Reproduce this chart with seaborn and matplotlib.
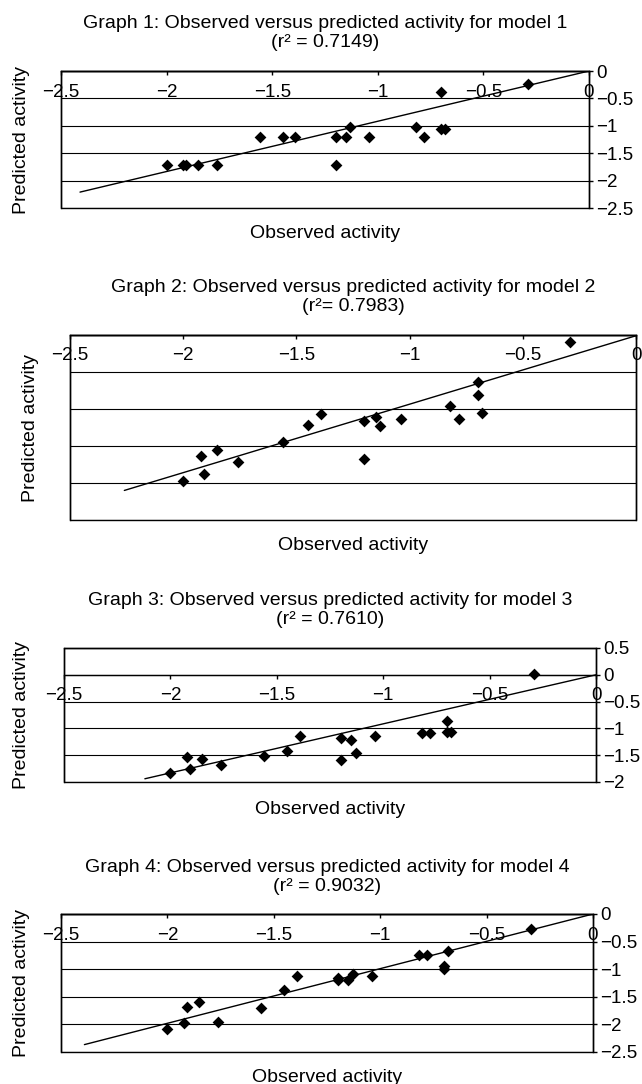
import matplotlib
matplotlib.use('Agg')
import matplotlib.pyplot as plt
import seaborn as sns
import numpy as np

# ── data ──────────────────────────────────────────────────────────────────────
observed = [-2.00, -1.92, -1.91, -1.85, -1.76, -1.56, -1.45, -1.39, -1.20, -1.20,
            -1.15, -1.13, -1.04, -0.82, -0.78, -0.70, -0.70, -0.68, -0.29]

pred_model1 = [-1.72, -1.72, -1.72, -1.72, -1.72, -1.20, -1.20, -1.20, -1.20, -1.72,
               -1.20, -1.02, -1.20, -1.03, -1.20, -0.39, -1.06, -1.06, -0.24]
pred_model2 = [-1.97, -1.63, -1.88, -1.56, -1.72, -1.45, -1.21, -1.07, -1.16, -1.68,
               -1.11, -1.23, -1.14, -0.96, -1.14, -0.64, -0.81, -1.05, -0.09]
pred_model3 = [-1.83, -1.53, -1.75, -1.58, -1.69, -1.52, -1.43, -1.14, -1.17, -1.59,
               -1.22, -1.46, -1.14, -1.09, -1.09, -0.86, -1.06, -1.06, 0.02]
pred_model4 = [-2.09, -1.98, -1.68, -1.60, -1.95, -1.70, -1.38, -1.12, -1.16, -1.19,
               -1.20, -1.09, -1.13, -0.75, -0.75, -0.95, -1.00, -0.67, -0.27]
predicted = [pred_model1, pred_model2, pred_model3, pred_model4]

r2_labels = ['(r\u00b2 = 0.7149)', '(r\u00b2= 0.7983)', '(r\u00b2 = 0.7610)', '(r\u00b2 = 0.9032)']

# trend lines as drawn in the source (slope, intercept, first x)
trend_slope = [0.917, 0.925, 0.915, 0.99]
trend_intercept = [0.0, -0.01, 0.0, 0.0]
trend_start = [-2.41, -2.26, -2.12, -2.39]

x_ticks = [-2.5, -2, -1.5, -1, -0.5, 0]
y_limits = [(-2.5, 0), (-2.5, 0), (-2, 0.5), (-2.5, 0)]
show_y_labels = [True, False, True, True]

# ── layout (pixels on a 642x1084 canvas) ──────────────────────────────────────
W, H = 642, 1084
boxes = [(61, 589, 71, 208), (70, 636, 335, 520), (64, 596, 648, 782), (61, 593, 914, 1052)]
ylabel_x = [22, 31, 22, 22]
xlabel_gap = [25, 26, 28, 25]
title_gap = [38, 38, 38, 37]


def fmt(v):
    return f'{v:g}'.replace('-', '\u2212')


sns.set_style('white')
plt.rcParams['font.family'] = ['Liberation Sans', 'DejaVu Sans']
plt.rcParams['text.color'] = 'black'
plt.rcParams['axes.labelcolor'] = 'black'

fig = plt.figure(figsize=(W / 100, H / 100), dpi=100)

for i in range(4):
    left, right, top, bottom = boxes[i]
    w, h = right - left, bottom - top
    ax = fig.add_axes([left / W, 1 - bottom / H, w / W, h / H])

    sns.scatterplot(x=observed, y=predicted[i], marker='D', color='black', s=36,
                    linewidth=0, ax=ax, zorder=3)
    tx = np.array([trend_start[i], 0.0])
    ax.plot(tx, trend_slope[i] * tx + trend_intercept[i], color='black', lw=1, zorder=2)

    ax.set_xlim(-2.5, 0)
    lo, hi = y_limits[i]
    ax.set_ylim(lo, hi)

    # frame: box drawn by the axes patch, x axis sits on y = 0
    for side in ['top', 'left', 'right']:
        ax.spines[side].set_visible(True)
        ax.spines[side].set_color('black')
        ax.spines[side].set_linewidth(1)
    ax.spines['bottom'].set_position(('data', 0))
    ax.spines['bottom'].set_color('black')
    ax.spines['bottom'].set_linewidth(1)
    ax.patch.set_edgecolor('black')
    ax.patch.set_linewidth(1)

    ax.set_xticks(x_ticks)
    ax.set_xticklabels([fmt(v) for v in x_ticks])
    ax.tick_params(axis='x', bottom=True, top=False, direction='out', length=3,
                   width=1, pad=6, labelsize=13.5, colors='black')

    y_ticks = np.arange(lo, hi + 0.01, 0.5)
    ax.set_yticks(y_ticks)
    ax.yaxis.tick_right()
    if show_y_labels[i]:
        ax.set_yticklabels([fmt(round(v, 1)) for v in y_ticks])
        ax.tick_params(axis='y', right=True, left=False, direction='out', length=3,
                       width=1, pad=2, labelsize=13.5, colors='black')
    else:
        ax.tick_params(axis='y', right=False, left=False, labelright=False, length=0)

    ax.grid(axis='y', color='black', lw=0.8)
    ax.grid(axis='x', visible=False)
    ax.set_axisbelow(True)

    ax.yaxis.set_label_position('left')
    ax.set_ylabel('Predicted activity', fontsize=14, va='center')
    ax.yaxis.set_label_coords((ylabel_x[i] - left) / w, 0.5)
    ax.set_xlabel('Observed activity', fontsize=14, va='center')
    ax.xaxis.set_label_coords(0.5, -xlabel_gap[i] / h)

    ax.set_title(f'Graph {i + 1}: Observed versus predicted activity for model {i + 1}\n'
                 f'{r2_labels[i]}', fontsize=14, y=1 + title_gap[i] / h, va='center',
                 pad=0, linespacing=1.2)

plt.savefig('out.png', dpi=100)
plt.close()
print('OK: out.png')
